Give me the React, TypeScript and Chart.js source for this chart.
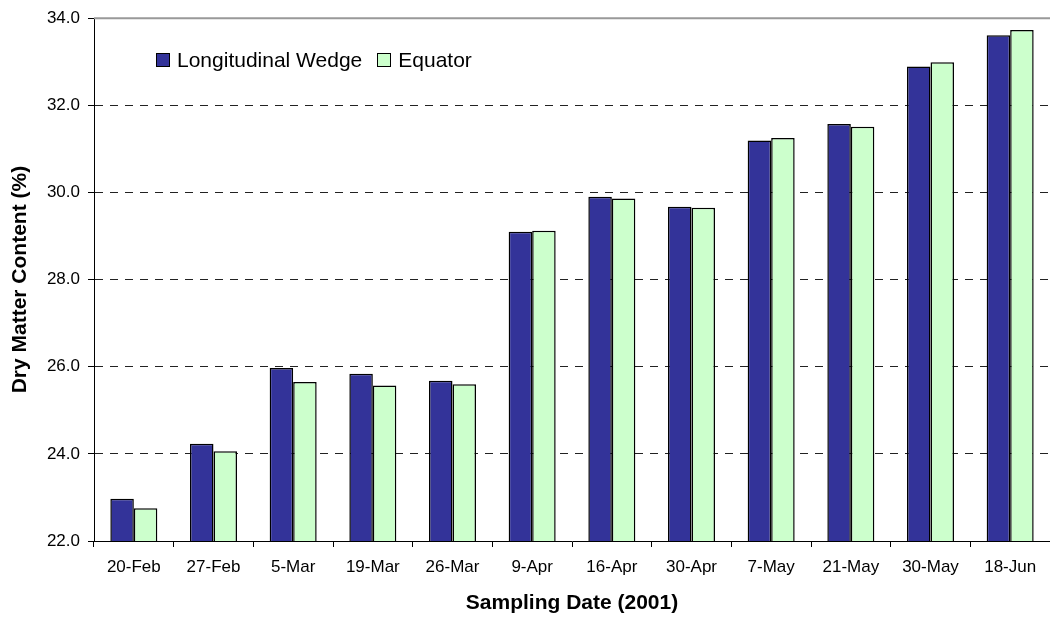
import React, { useEffect, useRef } from 'react';
import { Chart, registerables } from 'chart.js';

Chart.register(...registerables);

const categories = ['20-Feb', '27-Feb', '5-Mar', '19-Mar', '26-Mar', '9-Apr', '16-Apr', '30-Apr', '7-May', '21-May', '30-May', '18-Jun'];
const wedgeValues = [22.97, 24.23, 25.97, 25.84, 25.68, 29.1, 29.9, 29.67, 31.19, 31.57, 32.89, 33.61];
const equatorValues = [22.75, 24.06, 25.65, 25.57, 25.6, 29.12, 29.86, 29.65, 31.25, 31.51, 32.99, 33.73];
const seriesNames = ['Longitudinal Wedge', 'Equator'];
const seriesColors = ['#333399', '#CCFFCC'];
const yMin = 22;
const yMax = 34;
const yStep = 2;
const xTitle = 'Sampling Date (2001)';
const yTitle = 'Dry Matter Content (%)';

const FONT = "'Liberation Sans', Arial, sans-serif";

const topBorder = {
  id: 'topBorder',
  afterDraw(chart: any) {
    const { ctx, chartArea } = chart;
    ctx.save();
    ctx.strokeStyle = '#999999';
    ctx.lineWidth = 2;
    ctx.beginPath();
    ctx.moveTo(chartArea.left, chartArea.top);
    ctx.lineTo(chartArea.right, chartArea.top);
    ctx.stroke();
    ctx.restore();
  },
};

export default function App() {
  const canvasRef = useRef<HTMLCanvasElement | null>(null);

  useEffect(() => {
    if (!canvasRef.current) return;
    const chart = new Chart(canvasRef.current, {
      type: 'bar',
      data: {
        labels: categories,
        datasets: [
          {
            label: seriesNames[0],
            data: wedgeValues,
            backgroundColor: seriesColors[0],
            borderColor: '#000000',
            borderWidth: 1.5,
            categoryPercentage: 0.59,
            barPercentage: 1.0,
          },
          {
            label: seriesNames[1],
            data: equatorValues,
            backgroundColor: seriesColors[1],
            borderColor: '#000000',
            borderWidth: 1.5,
            categoryPercentage: 0.59,
            barPercentage: 1.0,
          },
        ],
      },
      options: {
        responsive: false,
        animation: false,
        layout: { padding: { top: 17, left: 0, right: 0, bottom: 0 } },
        plugins: {
          legend: { display: false },
          tooltip: { enabled: false },
        },
        scales: {
          x: {
            afterFit: (scale: any) => {
              scale.height = 78;
            },
            grid: {
              offset: true,
              drawOnChartArea: false,
              drawTicks: true,
              tickLength: 6,
              tickColor: '#000000',
            },
            border: { color: '#000000', width: 1 },
            ticks: {
              color: '#000000',
              font: { family: FONT, size: 17 },
              padding: 10,
              maxRotation: 0,
              autoSkip: false,
            },
            title: {
              display: true,
              text: xTitle,
              color: '#000000',
              font: { family: FONT, size: 21, weight: 'bold' },
              padding: { top: 0, bottom: 3 },
            },
          },
          y: {
            min: yMin,
            max: yMax,
            afterFit: (scale: any) => {
              scale.width = 94;
            },
            grid: {
              color: (ctx: any) =>
                ctx.tick && (ctx.tick.value === yMax || ctx.tick.value === yMin) ? 'rgba(0,0,0,0)' : '#222222',
              lineWidth: 1,
              tickLength: 6,
              tickColor: '#000000',
            },
            border: { color: '#000000', width: 1, dash: [8, 7] },
            ticks: {
              stepSize: yStep,
              color: '#000000',
              font: { family: FONT, size: 17 },
              padding: 8,
              callback: (v: any) => Number(v).toFixed(1),
            },
            title: {
              display: true,
              text: yTitle,
              color: '#000000',
              font: { family: FONT, size: 21, weight: 'bold' },
              padding: { top: 8, bottom: 0 },
            },
          },
        },
      },
      plugins: [topBorder],
    });
    return () => chart.destroy();
  }, []);

  const legendText: React.CSSProperties = {
    fontFamily: FONT,
    fontSize: 21,
    color: '#000',
    lineHeight: '24px',
    whiteSpace: 'nowrap',
  };
  const box = (c: string): React.CSSProperties => ({
    width: 12,
    height: 12,
    background: c,
    border: '1px solid #000',
    display: 'inline-block',
  });

  return (
    <div style={{ position: 'absolute', left: 0, top: 0, width: 1050, height: 619, background: '#fff' }}>
      <canvas ref={canvasRef} width={1050} height={619} style={{ display: 'block' }} />
      <div style={{ position: 'absolute', left: 156, top: 48, display: 'flex', alignItems: 'center' }}>
        <span style={box(seriesColors[0])} />
        <span style={{ ...legendText, marginLeft: 7 }}>{seriesNames[0]}</span>
        <span style={{ ...box(seriesColors[1]), marginLeft: 15 }} />
        <span style={{ ...legendText, marginLeft: 7 }}>{seriesNames[1]}</span>
      </div>
    </div>
  );
}
